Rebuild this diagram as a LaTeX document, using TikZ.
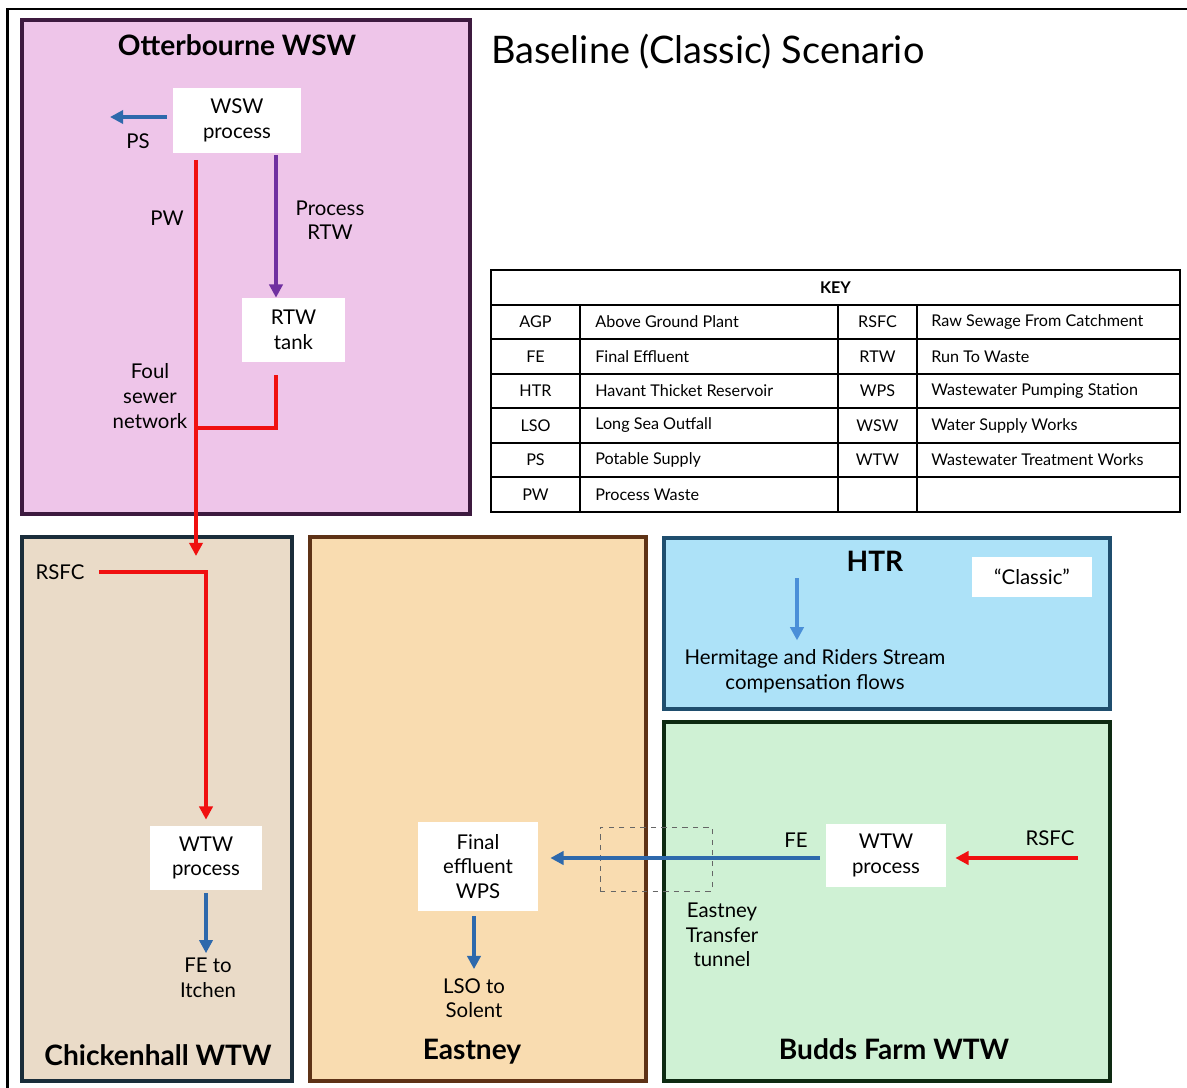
\documentclass[tikz,border=0pt]{standalone}
\usepackage{fontspec}
\setmainfont{Lato}
\usetikzlibrary{arrows.meta}
\definecolor{pinkF}{HTML}{EEC5E9}\definecolor{pinkD}{HTML}{3D1A3F}
\definecolor{chkF}{HTML}{EADBC8}\definecolor{chkD}{HTML}{1A2D3A}
\definecolor{eastF}{HTML}{F9DCB0}\definecolor{eastD}{HTML}{5E3216}
\definecolor{htrF}{HTML}{ADE2F8}\definecolor{htrD}{HTML}{1F4E6E}
\definecolor{budF}{HTML}{CFF1D4}\definecolor{budD}{HTML}{0E2A12}
\definecolor{flowRed}{HTML}{F01010}\definecolor{flowBlue}{HTML}{2E69AC}
\definecolor{flowPurple}{HTML}{7030A0}\definecolor{flowLight}{HTML}{4A8FD8}
\tikzset{
  area/.style={line width=1.8pt},
  procbox/.style={fill=white, align=center, font=\fontsize{11.6}{14}\selectfont, inner sep=0pt},
  lbl/.style={align=center, font=\fontsize{11.6}{14}\selectfont, inner sep=1pt},
  areatitle/.style={font=\fontsize{16}{18}\selectfont\bfseries, inner sep=0pt},
  keytxt/.style={font=\fontsize{9.2}{11}\selectfont, inner sep=0pt},
  tip/.style={-{Triangle[length=7.5pt,width=7.5pt]}},
  redflow/.style={draw=flowRed, line width=2.1pt},
  blueflow/.style={draw=flowBlue, line width=2.1pt},
}
\begin{document}
\begin{tikzpicture}[x=0.02cm,y=-0.02cm]
\useasboundingbox (0,0) rectangle (1187,1088);
\clip (0,0) rectangle (1187,1088);
\fill[white] (0,0) rectangle (1187,1088);
\draw[line width=1.7pt] (7.5,9) rectangle (1210,1110);

% areas
\draw[area, draw=pinkD, fill=pinkF] (22,20) rectangle (470,514);
\draw[area, draw=chkD, fill=chkF] (22,537) rectangle (292,1081);
\draw[area, draw=eastD, fill=eastF] (310,537) rectangle (646,1081);
\draw[area, draw=htrD, fill=htrF] (664,538) rectangle (1110,709);
\draw[area, draw=budD, fill=budF] (664,722) rectangle (1110,1081);

% titles
\node[areatitle] (tOtt) at (237,45) {Otterbourne WSW};
\node[areatitle] (tChk) at (158,1055) {Chickenhall WTW};
\node[areatitle] (tEas) at (472,1052) {Eastney};
\node[areatitle] (tHtr) at (875,561) {HTR};
\node[areatitle] (tBud) at (894,1049) {Budds Farm WTW};
\node[anchor=west, font=\fontsize{21.6}{24}\selectfont, inner sep=0pt] (tMain) at (491,52) {Baseline (Classic) Scenario};

% Otterbourne
\node[procbox, minimum width=2.56cm, minimum height=1.3cm] (wsw) at (237,120.5) {WSW\\process};
\node[procbox, minimum width=2.06cm, minimum height=1.28cm] (rtw) at (293.5,330) {RTW\\tank};
\coordinate (psEnd) at (110,117);
\coordinate (pcol) at (276,0);
\coordinate (pwTop) at (196,160);
\coordinate (junc) at (196,428);
\coordinate (chkIn) at (196,556);
\node[lbl] (lPS) at (138,141) {PS};
\node[lbl] (lPW) at (167,218) {PW};
\node[lbl] (lPR) at (330,220) {Process\\RTW};
\node[lbl] (lFoul) at (150,396) {Foul\\sewer\\network};
\draw[blueflow, tip] (wsw.west |- psEnd) ++(-6,0) -- (psEnd);
\draw[draw=flowPurple, line width=2.1pt, tip] ([yshift=-0.04cm]wsw.south -| pcol) -- (rtw.north -| pcol);
\draw[redflow, shorten <=0.26cm] (rtw.south -| pcol) |- (junc);
\draw[redflow, tip] (pwTop) -- (chkIn);

% Chickenhall
\node[lbl, inner sep=0pt] (rsfcA) at (60,572) {RSFC};
\node[procbox, minimum width=2.24cm, minimum height=1.28cm] (wtwA) at (206,858) {WTW\\process};
\node[lbl] (feA) at (208,978) {FE to\\Itchen};
\draw[redflow, tip, shorten <=0.28cm, shorten >=0.12cm] (rsfcA.east) -| (wtwA.north);
\draw[blueflow, tip, shorten <=0.06cm, shorten >=0.06cm] (wtwA.south) -- (wtwA.south |- feA.north);

% Eastney
\node[procbox, minimum width=2.4cm, minimum height=1.78cm] (fewps) at (478,866.5) {Final\\effluent\\WPS};
\node[lbl] (lso) at (474,998) {LSO to\\Solent};
\coordinate (eCol) at (474,0);
\draw[blueflow, tip, shorten <=0.1cm, shorten >=0.14cm] (fewps.south -| eCol) -- (lso.north -| eCol);

% HTR
\node[procbox, minimum width=2.4cm, minimum height=0.8cm] (classic) at (1032,577) {“Classic”};
\node[lbl] (herm) at (815,671) {Hermitage and Riders Stream\\compensation flows};
\coordinate (htrTop) at (797,578);
\draw[draw=flowLight, line width=1.9pt, tip, shorten >=0.14cm] (htrTop) -- (htrTop |- herm.north);

% Budds Farm
\node[procbox, minimum width=2.4cm, minimum height=1.26cm] (wtwB) at (886,855.5) {WTW\\process};
\node[lbl] (lFE) at (796,840) {FE};
\node[lbl] (rsfcB) at (1050,838) {RSFC};
\node[lbl] (tunLbl) at (722,935) {Eastney\\Transfer\\tunnel};
\node[draw=gray!80!black, dashed, line width=0.5pt, minimum width=2.24cm, minimum height=1.28cm, inner sep=0pt] (tunnel) at (656,859) {};
\coordinate (rsfcStart) at (1078,858);
\draw[blueflow, tip, shorten <=0.12cm, shorten >=0.24cm] ([yshift=-0.05cm]wtwB.west) -- ([yshift=-0.05cm]wtwB.west -| fewps.east);
\draw[redflow, tip, shorten >=0.18cm] (rsfcStart) -- (rsfcStart -| wtwB.east);

% Key table
\draw[line width=1.4pt] (491,270) rectangle (1180,512);
\foreach \y in {305,339,374,408,443,477} \draw[line width=1.2pt] (491,\y) -- (1180,\y);
\foreach \x in {580,838,917} \draw[line width=1.2pt] (\x,305) -- (\x,512);
\node[keytxt, font=\fontsize{9.2}{11}\selectfont\bfseries] (keyH) at (835.5,287.5) {KEY};
\foreach \i/\y/\a/\b/\c/\d in {
  1/322/AGP/Above Ground Plant/RSFC/Raw Sewage From Catchment,
  2/356.5/FE/Final Effluent/RTW/Run To Waste,
  3/391/HTR/Havant Thicket Reservoir/WPS/Wastewater Pumping Station,
  4/425.5/LSO/Long Sea Outfall/WSW/Water Supply Works,
  5/460/PS/Potable Supply/WTW/Wastewater Treatment Works,
  6/494.5/PW/Process Waste//}{
  \node[keytxt] (ka\i) at (535.5,\y) {\a};
  \node[keytxt, anchor=west] (kb\i) at (595,\y) {\b};
  \node[keytxt] (kc\i) at (877.5,\y) {\c};
  \node[keytxt, anchor=west] (kd\i) at (931,\y) {\d};
}
\end{tikzpicture}
\end{document}
